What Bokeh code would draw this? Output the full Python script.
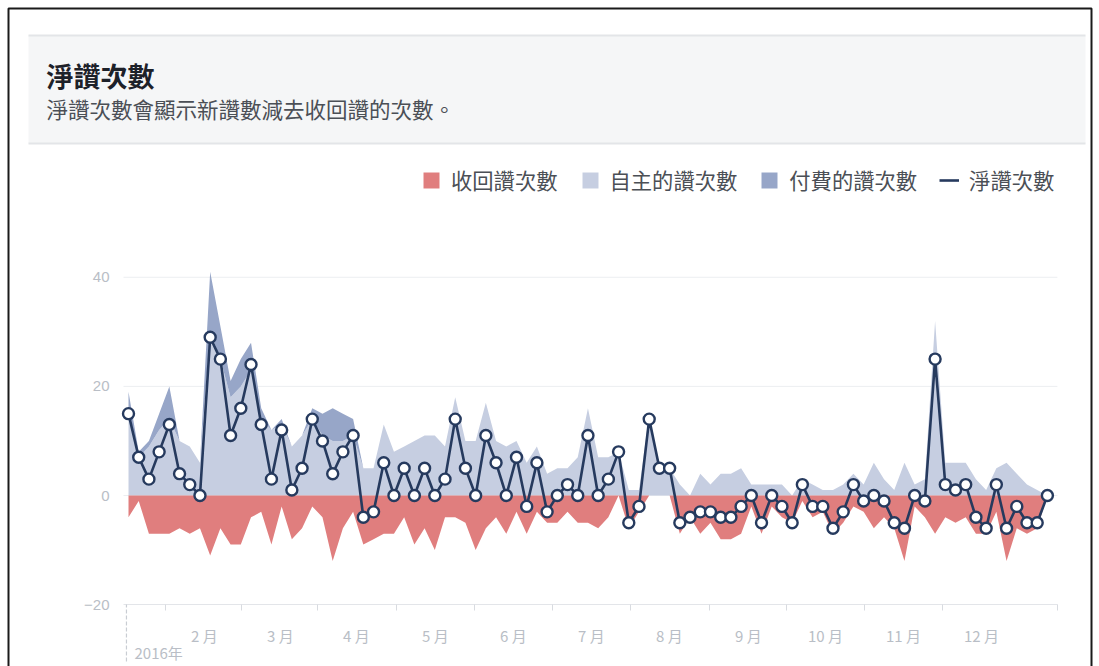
from bokeh.plotting import figure
from bokeh.models import (ColumnDataSource, FixedTicker, Legend, LegendItem, Label,
                          BoxAnnotation, Range1d, LinearAxis)
from bokeh.embed import file_html
from bokeh.resources import INLINE

# ---------------- data ----------------
net = [15, 7, 3, 8, 13, 4, 2, 0, 29, 25,
       11, 16, 24, 13, 3, 12, 1, 5, 14, 10,
       4, 8, 11, -4, -3, 6, 0, 5, 0, 5,
       0, 3, 14, 5, 0, 11, 6, 0, 7, -2,
       6, -3, 0, 2, 0, 11, 0, 3, 8, -5,
       -2, 14, 5, 5, -5, -4, -3, -3, -4, -4,
       -2, 0, -5, 0, -2, -5, 2, -2, -2, -6,
       -3, 2, -1, 0, -1, -5, -6, 0, -1, 25,
       2, 1, 2, -4, -6, 2, -6, -2, -5, -5, 0]
organic = [16, 7, 9, 12, 14, 10, 9, 6, 30, 25,
           18, 20, 23, 14, 12, 13, 9, 11, 14, 11,
           10, 10, 11, 5, 5, 13, 8, 9, 10, 11,
           11, 9, 18, 10, 10, 17, 10, 9, 10, 6,
           9, 4, 5, 5, 7, 16, 7, 7, 8, 1,
           1, 15, 5, 5, 2, 0, 4, 2, 4, 4,
           5, 2, 2, 2, 2, 0, 3, 2, 1, 1,
           2, 4, 2, 6, 3, 1, 6, 2, 3, 32,
           6, 6, 6, 3, 1, 5, 6, 4, 2, 1, 0]
paid = [3, 1, 1, 3, 6, 0, 0, 0, 11, 6,
        3, 5, 5, 2, 0, 1, 0, 0, 2, 4,
        6, 5, 3, 0, 0, 0, 0, 0, 0, 0,
        0, 0, 0, 0, 0, 0, 0, 0, 0, 0,
        0, 0, 0, 0, 0, 0, 0, 0, 0, 0,
        0, 0, 0, 0, 0, 0, 0, 0, 0, 0,
        0, 0, 0, 0, 0, 0, 0, 0, 0, 0,
        0, 0, 0, 0, 0, 0, 0, 0, 0, 0,
        0, 0, 0, 0, 0, 0, 0, 0, 0, 0, 0]
unlikes = [-4, -1, -7, -7, -7, -6, -7, -6, -11, -6,
           -9, -9, -4, -3, -9, -2, -8, -6, -2, -4,
           -12, -6, -3, -9, -8, -7, -7, -4, -9, -6,
           -10, -4, -4, -5, -10, -6, -4, -7, -3, -7,
           -3, -5, -5, -3, -5, -5, -6, -4, 0, -6,
           -3, 0, 0, 0, -7, -4, -7, -5, -8, -8,
           -7, -2, -7, -2, -4, -5, -1, -4, -3, -7,
           -5, -2, -3, -6, -4, -6, -12, -2, -4, -7,
           -4, -5, -4, -7, -7, -3, -12, -6, -7, -6, 0]

month_labels = ["2 月", "3 月", "4 月", "5 月", "6 月", "7 月",
                "8 月", "9 月", "10 月", "11 月", "12 月"]
month_starts = [3.62, 11.07, 18.51, 26.25, 33.89, 41.53, 49.17, 56.9, 64.45, 72.09, 79.73]
month_len = 7.62
year_label = "2016年"
y_ticks = [-20, 0, 20, 40]
grid_ticks = [0, 20, 40]

title_text = "淨讚次數"
subtitle_text = "淨讚次數會顯示新讚數減去收回讚的次數。"
legend_labels = ["收回讚次數", "自主的讚次數", "付費的讚次數", "淨讚次數"]

# ---------------- layout / style ----------------
W, H = 1099, 666
FONT = "Noto Sans CJK TC"
NUMFONT = "Liberation Sans"
C_RED = "#e07e7e"
C_ORG = "#c6cee1"
C_PAID = "#97a6c8"
C_LINE = "#263a5e"
C_AXIS_TXT = "#b9bec6"

# plot area: first point at px 128, 10.21 px per point; value 0 at py 495, 5.456 px per unit
PX0, PXS = 128.0, 10.21
PY0, PYS = 495.0, 5.456
XS, XE = -0.49, 90.98          # data-area extents (index units)

x = list(range(len(net)))
src = ColumnDataSource(dict(x=x, net=net, organic=organic, paid=paid, unlikes=unlikes))

p = figure(width=W, height=H, output_backend="svg", toolbar_location=None,
           x_axis_type=None, y_axis_type=None,
           x_range=Range1d(-PX0 / PXS, (W - PX0) / PXS),
           y_range=Range1d((PY0 - H) / PYS, PY0 / PYS),
           min_border=0, min_border_left=0, min_border_right=0,
           min_border_top=0, min_border_bottom=0)
p.outline_line_color = None
p.background_fill_color = "white"
p.border_fill_color = "white"
p.xgrid.visible = False
p.ygrid.visible = False


def sbox(left, right, top, bottom, **kw):
    return BoxAnnotation(left=left, right=right, top=top, bottom=bottom,
                         left_units="screen", right_units="screen",
                         top_units="screen", bottom_units="screen", **kw)


# outer frame + header panel (screen units: from bottom-left of the canvas)
p.add_layout(sbox(8, W - 8, H - 8, -20, fill_alpha=0, line_color="#1a1a1a",
                  line_alpha=1.0, line_width=2))
p.add_layout(sbox(28, 1085, H - 35, H - 143, fill_color="#f5f6f7", fill_alpha=1.0,
                  line_color=None))
p.add_layout(sbox(28, 1085, H - 34, H - 36, fill_color="#e3e5e8", fill_alpha=1.0,
                  line_color=None))
p.add_layout(sbox(28, 1085, H - 142, H - 144, fill_color="#e3e5e8", fill_alpha=1.0,
                  line_color=None))
p.add_layout(Label(x=46, y=H - 75, x_units="screen", y_units="screen", text=title_text,
                   text_font=FONT, text_font_size="27px", text_font_style="bold",
                   text_color="#1d2129", text_baseline="middle", text_align="left"))
p.add_layout(Label(x=46, y=H - 108, x_units="screen", y_units="screen", text=subtitle_text,
                   text_font=FONT, text_font_size="21.5px",
                   text_color="#4b4f56", text_baseline="middle", text_align="left"))

# grid lines
gsrc = ColumnDataSource(dict(y=grid_ticks))
p.segment(x0=XS, x1=XE, y0="y", y1="y", line_color="#eceef1", line_width=1, source=gsrc)

# areas
r_stack = p.varea_stack(["organic", "paid"], x="x", color=[C_ORG, C_PAID], source=src)
r_unl = p.varea(x="x", y1=0, y2="unlikes", color=C_RED, source=src)
r_line = p.line("x", "net", line_color=C_LINE, line_width=2.6, source=src)
p.scatter("x", "net", size=11, fill_color="white", line_color=C_LINE, line_width=2.4,
          source=src)

# y axis
yaxis = LinearAxis(fixed_location=XS, bounds=(-20, 40), ticker=FixedTicker(ticks=y_ticks),
                   axis_line_color=None, major_tick_line_color=None,
                   minor_tick_line_color=None, major_label_text_color=C_AXIS_TXT,
                   major_label_text_font=NUMFONT, major_label_text_font_size="15px",
                   major_label_standoff=8)
p.add_layout(yaxis, "left")

# x axis
centers = [round(s + month_len / 2, 3) for s in month_starts]
xaxis = LinearAxis(fixed_location=-20, bounds=(XS, XE),
                   ticker=FixedTicker(ticks=centers, minor_ticks=month_starts + [XE - 0.01]),
                   major_label_overrides={c: lab for c, lab in zip(centers, month_labels)},
                   axis_line_color="#e3e5e9", major_tick_line_color=None,
                   major_tick_out=6, minor_tick_line_color="#d8dbe0",
                   minor_tick_out=6, minor_tick_in=0, major_label_standoff=14,
                   major_label_text_color=C_AXIS_TXT, major_label_text_font=FONT,
                   major_label_text_font_size="15px")
p.add_layout(xaxis, "below")

# start-of-year marker
p.add_layout(BoxAnnotation(left=-0.2, right=-0.2, top=-20, bottom=4,
                           top_units="data", bottom_units="screen",
                           fill_alpha=0, line_color="#c9cdd3", line_alpha=1.0,
                           line_width=1.2, line_dash="3 3"))
p.add_layout(Label(x=0, y=14, x_offset=6, y_units="screen", text=year_label,
                   text_font=FONT, text_font_size="15px", text_color=C_AXIS_TXT,
                   text_baseline="middle", text_align="left"))

legend = Legend(items=[LegendItem(label=legend_labels[0], renderers=[r_unl]),
                       LegendItem(label=legend_labels[1], renderers=[r_stack[0]]),
                       LegendItem(label=legend_labels[2], renderers=[r_stack[1]]),
                       LegendItem(label=legend_labels[3], renderers=[r_line])],
                orientation="horizontal", location=(421, H - 195),
                glyph_width=20, glyph_height=20, label_standoff=10, spacing=22,
                padding=0, margin=0, border_line_color=None,
                background_fill_alpha=0, label_text_font=FONT,
                label_text_font_size="21.3px", label_text_color="#4b4f56",
                label_height=20)
p.add_layout(legend)

open("out.html", "w").write(file_html(p, INLINE))
